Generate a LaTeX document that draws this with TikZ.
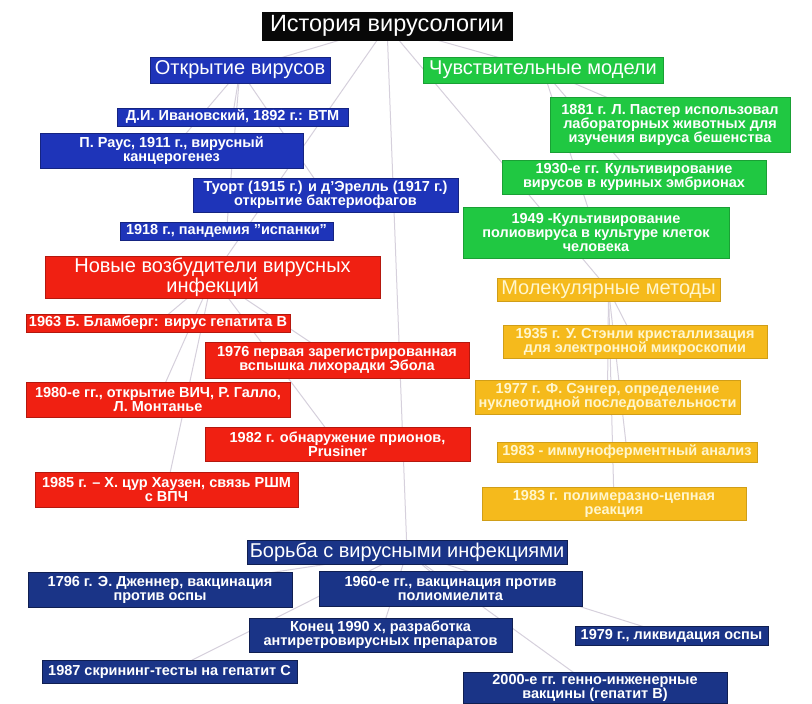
\documentclass[tikz,border=0pt]{standalone}
\usepackage{fontspec}
\setmainfont{Liberation Sans}
\pgfdeclarelayer{bg}
\pgfsetlayers{bg,main}
\definecolor{cTitle}{RGB}{8,8,8}
\definecolor{cBlue}{RGB}{30,52,185}
\definecolor{cNavy}{RGB}{26,52,135}
\definecolor{cRed}{RGB}{240,32,18}
\definecolor{cGreen}{RGB}{32,200,66}
\definecolor{cGold}{RGB}{245,186,28}
\definecolor{cLine}{RGB}{214,208,220}
\definecolor{cGoldTxt}{RGB}{255,246,205}
\tikzset{
  base/.style={inner sep=0pt, align=center, text=white, line width=0.8pt},
  itm/.style={base, font=\fontsize{14.5}{14}\selectfont\bfseries},
  hdr/.style={base, font=\fontsize{20}{20}\selectfont},
  blu/.style={fill=cBlue, draw=cBlue!70!black},
  nav/.style={fill=cNavy, draw=cNavy!60!black},
  red/.style={fill=cRed, draw=cRed!75!black},
  grn/.style={fill=cGreen, draw=cGreen!80!black},
  gld/.style={fill=cGold, draw=cGold!85!black, text=cGoldTxt},
  blk/.style={fill=cTitle, draw=cTitle},
  link/.style={draw=cLine, line width=1pt},
}
\begin{document}
\begin{tikzpicture}[x=1pt,y=-1pt]
\useasboundingbox (0,0) rectangle (812,704);
% title
\node[base,blk,font=\fontsize{23.5}{24}\selectfont,minimum width=250pt,minimum height=28pt] (title) at (387,26) {История вирусологии};
% headers
\node[hdr,blu,minimum width=180pt,minimum height=26pt] (otk) at (240,70) {Открытие вирусов};
\node[hdr,grn,minimum width=240pt,minimum height=26pt] (chuv) at (543,70) {Чувствительные модели};
\node[hdr,red,minimum width=335pt,minimum height=42pt] (novye) at (212.5,277) {Новые возбудители вирусных\\инфекций};
\node[hdr,gld,minimum width=223pt,minimum height=23pt] (mol) at (608.5,289.5) {Молекулярные методы};
\node[hdr,nav,minimum width=320pt,minimum height=24pt] (borba) at (407,552) {Борьба с вирусными инфекциями};
% discovery
\node[itm,blu,minimum width=231pt,minimum height=18pt] (ivan) at (232.5,117) {Д.И. Ивановский, 1892 г.: ВТМ};
\node[itm,blu,minimum width=263pt,minimum height=35pt] (raus) at (171.5,150.5) {П. Раус, 1911 г., вирусный\\канцерогенез};
\node[itm,blu,minimum width=265pt,minimum height=34pt] (tuort) at (325.5,195) {Туорт (1915 г.) и д'Эрелль (1917 г.)\\открытие бактериофагов};
\node[itm,blu,minimum width=213pt,minimum height=18pt] (pand) at (226.5,231) {1918 г., пандемия "испанки"};
% models
\node[itm,grn,minimum width=240pt,minimum height=55pt] (pasteur) at (670,124.5) {1881 г. Л. Пастер использовал\\лабораторных животных для\\изучения вируса бешенства};
\node[itm,grn,minimum width=264pt,minimum height=34pt] (k1930) at (634,177) {1930-е гг. Культивирование\\вирусов в куриных эмбрионах};
\node[itm,grn,minimum width=266pt,minimum height=51pt] (k1949) at (596,232.5) {1949 -Культивирование\\полиовируса в культуре клеток\\человека};
% new pathogens
\node[itm,red,minimum width=264pt,minimum height=18pt] (blum) at (158,323) {1963 Б. Бламберг: вирус гепатита В};
\node[itm,red,minimum width=264pt,minimum height=36pt] (ebola) at (337,360) {1976 первая зарегистрированная\\вспышка лихорадки Эбола};
\node[itm,red,minimum width=264pt,minimum height=35pt] (hiv) at (158,399.5) {1980-е гг., открытие ВИЧ, Р. Галло,\\Л. Монтанье};
\node[itm,red,minimum width=265pt,minimum height=34pt] (prion) at (337.5,444) {1982 г. обнаружение прионов,\\Prusiner};
\node[itm,red,minimum width=263pt,minimum height=35pt] (hpv) at (166.5,489.5) {1985 г. – Х. цур Хаузен, связь РШМ\\с ВПЧ};
% molecular
\node[itm,gld,minimum width=264pt,minimum height=33pt] (stanley) at (635,341.5) {1935 г. У. Стэнли кристаллизация\\для электронной микроскопии};
\node[itm,gld,minimum width=265pt,minimum height=34pt] (sanger) at (607.5,397) {1977 г. Ф. Сэнгер, определение\\нуклеотидной последовательности};
\node[itm,gld,minimum width=260pt,minimum height=20pt] (ifa) at (627,452) {1983 - иммуноферментный анализ};
\node[itm,gld,minimum width=264pt,minimum height=33pt] (pcr) at (614,503.5) {1983 г. полимеразно-цепная\\реакция};
% fight
\node[itm,nav,minimum width=264pt,minimum height=35pt] (jenner) at (160,589.5) {1796 г. Э. Дженнер, вакцинация\\против оспы};
\node[itm,nav,minimum width=263pt,minimum height=35pt] (polio) at (450.5,588.5) {1960-е гг., вакцинация против\\полиомиелита};
\node[itm,nav,minimum width=263pt,minimum height=34pt] (arv) at (380.5,635) {Конец 1990 х, разработка\\антиретровирусных препаратов};
\node[itm,nav,minimum width=193pt,minimum height=19pt] (ospa) at (671.5,635.5) {1979 г., ликвидация оспы};
\node[itm,nav,minimum width=255pt,minimum height=23pt] (hepc) at (169.5,671.5) {1987 скрининг-тесты на гепатит С};
\node[itm,nav,minimum width=264pt,minimum height=31pt] (vacc) at (595,688) {2000-е гг. генно-инженерные\\вакцины (гепатит В)};
% connectors
\begin{pgfonlayer}{bg}
\fill[white] (0,0) rectangle (812,704);
\foreach \a/\b in {title/otk,title/chuv,title/novye,title/mol,title/borba,
  otk/ivan,otk/raus,otk/tuort,otk/pand,
  chuv/pasteur,chuv/k1930,chuv/k1949,
  novye/blum,novye/ebola,novye/hiv,novye/prion,novye/hpv,
  mol/stanley,mol/sanger,mol/ifa,mol/pcr,
  borba/jenner,borba/polio,borba/arv,borba/ospa,borba/hepc,borba/vacc}
  \draw[link] (\a.center) -- (\b.center);
\end{pgfonlayer}
\end{tikzpicture}
\end{document}
